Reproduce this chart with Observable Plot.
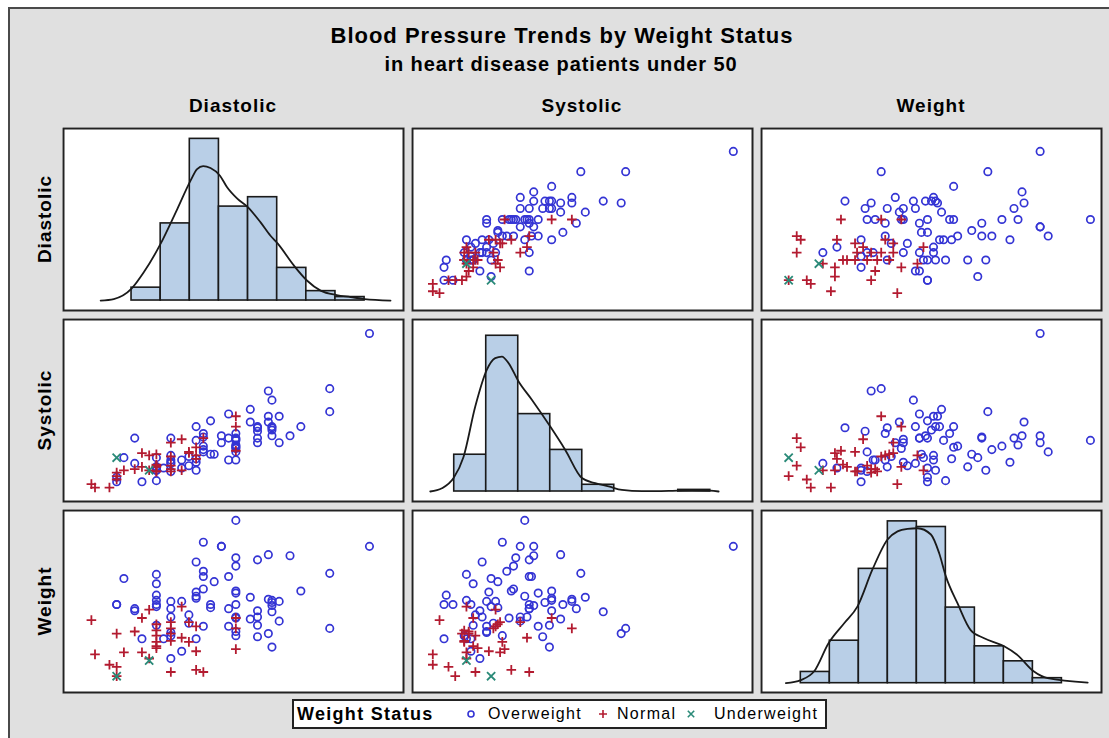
<!DOCTYPE html>
<html>
<head>
<meta charset="utf-8">
<script src="https://cdn.jsdelivr.net/npm/d3@7"></script>
<script src="https://cdn.jsdelivr.net/npm/@observablehq/plot@0.6"></script>
<style>
  html, body { margin: 0; padding: 0; background: #fff; overflow: hidden; width: 1109px; height: 738px; }
  #frame { position: absolute; left: 8px; top: 7px; width: 1200px; height: 800px; border: 2px solid #4a4a4a; background: #e0e0e0; }
  .t { position: absolute; font-family: "Liberation Sans", Arial, sans-serif; font-weight: bold; color: #000; white-space: nowrap; line-height: 1; }
  .panel { position: absolute; }
  #legend { position: absolute; left: 292px; top: 699px; width: 535px; height: 30px; box-sizing: border-box; border: 2px solid #222; background: #fff; font-family: "Liberation Sans", Arial, sans-serif; }
  #legend span { position: absolute; top: 4px; line-height: 1; white-space: nowrap; }
  #legend svg { position: absolute; top: 7px; }
</style>
</head>
<body>
<div id="frame"></div>
<div id="root"></div>
<script>
// ---------------- data ----------------
const weightStatus = [].concat(
  Array(74).fill("Overweight"), Array(34).fill("Normal"), Array(2).fill("Underweight"));
const diastolic = [
  137,126,126,118,115,112,112,110,110,110,110,110,109,109,109,106,106,106,106,106,
  104,104,100,100,100,100,100,100,100,100,100,100,98,98,98,96,96,94,93,93,
  91,91,91,91,91,89,89,89,89,87,85,85,82,82,82,82,82,82,80,78,
  78,78,78,78,78,78,74,72,72,69,67,67,89,87,
  100,100,100,91,89,89,89,87,87,85,85,82,82,82,82,82,78,78,78,78,
  78,78,76,76,74,74,72,69,67,67,67,65,61,60,
  76,67];
const systolic = [
  227,179,159,146,138,132,155,145,169,138,143,146,177,155,150,142,145,146,136,132,
  150,161,124,117,127,135,136,140,128,129,130,134,157,136,117,132,138,122,122,151,
  124,126,137,129,140,115,134,146,118,112,110,117,114,107,117,115,136,121,110,111,
  119,110,108,99,111,108,98,114,136,119,98,102,108,120,
  125,155,146,136,128,118,121,124,123,135,108,112,107,109,120,132,113,111,107,112,
  107,122,108,121,123,111,109,108,103,100,106,93,93,96,
  108,119];
const weight = [
  229,150,203,186,220,157,176,132,166,172,175,177,145,178,221,142,153,167,216,161,
  159,180,143,147,160,161,173,184,186,210,218,254,169,200,152,229,229,195,170,173,
  233,205,200,188,152,214,181,179,185,163,128,176,121,143,146,161,169,176,140,153,
  171,173,177,182,193,202,140,167,169,198,173,173,140,155,
  130,150,160,108,110,128,152,137,156,141,171,108,138,145,150,156,131,133,137,143,
  148,154,121,168,127,160,147,127,104,113,145,115,125,158,
  119,104];

const variables = ["Diastolic", "Systolic", "Weight"];
const statusOrder = ["Overweight", "Normal", "Underweight"];

// histogram bins (percent) read from the diagonal cells
const diaBinEdges = [55,65,75,85,95,105,115,125,135];
const diaPercent  = [2.6,15.6,32.7,19.0,20.9,6.6,1.9,0.7];
const sysBinEdges = [80,100,120,140,160,180,200,220,240];
const sysPercent  = [11.5,48.7,24.2,13.0,2.1,0,0,0.5];
const wtBinEdges  = [90,110,130,150,170,190,210,230,250,270];
const wtPercent   = [1.8,6.8,18.3,25.9,25.0,12.1,5.9,3.5,0.8];

// kernel density curves read from the diagonal cells
const diaKernelX = [44.4,48.9,55,59.2,65,70.7,75.3,77.5,79.6,82.1,85.3,87.8,91.3,94.9,99.3,102.7,105.2,110.7,115.3,119.9,125.4,130.2,135,143.9];
const diaKernelY = [0,0.3,2.4,5.7,11.5,18.5,24.3,26.6,27.2,26.8,25.3,22.9,20.6,18.9,15.8,13.1,11.5,7.1,4.0,2.0,1.1,0.7,0.3,0];
const sysKernelX = [65,72.3,79.6,85.8,93.1,100.4,105.6,109.8,114,120.2,128.5,140,149.4,159.8,168.1,176.5,184.8,197.3,214,228.5,240,245.2];
const sysKernelY = [0,1.0,4.2,10.8,26.5,38.1,41.7,42.2,40.1,34.4,28.7,20.3,13.0,4.2,2.6,1.6,0.5,0.1,0.2,0.4,0.3,0];
const wtKernelX  = [79.7,90,99.2,109.1,119.9,129.1,139.4,149.8,156.7,163.6,170.5,179.7,185.4,190,198,207.1,216.4,230.2,239.4,250.5,260.2,287.8];
const wtKernelY  = [0,0.5,1.9,6.4,9.6,12.3,18.2,23.0,24.3,24.7,24.8,23.8,20.8,17.1,12.8,8.5,7.2,5.9,4.5,1.9,0.8,0.1];

// ---------------- tables built from the arrays ----------------
const rows = diastolic.map((d, i) => ({Diastolic: d, Systolic: systolic[i], Weight: weight[i], status: weightStatus[i]}));
const mkBins = (edges, pct) => pct.map((p, i) => ({x1: edges[i], x2: edges[i + 1], y: p})).filter(b => b.y > 0);
const mkCurve = (xs, ys) => xs.map((x, i) => ({x, y: ys[i]}));
const diag = {
  Diastolic: {bins: mkBins(diaBinEdges, diaPercent), curve: mkCurve(diaKernelX, diaKernelY), x: [31.3, 148.7], y: [-2.22, 35.0]},
  Systolic:  {bins: mkBins(sysBinEdges, sysPercent), curve: mkCurve(sysKernelX, sysKernelY), x: [53.3, 267], y: [-3.44, 54.1]},
  Weight:    {bins: mkBins(wtBinEdges, wtPercent),   curve: mkCurve(wtKernelX, wtKernelY),   x: [62.2, 298], y: [-1.65, 27.8]}
};
// scale domains of each variable when used across (column) or down (row)
const xDom = {Diastolic: [52, 146.7], Systolic: [83.5, 236], Weight: [90, 260]};
const yDom = {Diastolic: [50, 150], Systolic: [80, 240], Weight: [87.3, 264.5]};

const colors = {Overweight: "#3434d4", Normal: "#b31b30", Underweight: "#2a8a78"};

// ---------------- layout ----------------
const colLeft = [62, 411, 760];
const rowTop = [127, 318, 509];
const PW = 342, PH = 184;
const root = document.getElementById("root");

function addText(txt, x, y, size, spacing, center = true) {
  const d = document.createElement("div");
  d.className = "t";
  d.textContent = txt;
  d.style.fontSize = size + "px";
  d.style.letterSpacing = spacing + "px";
  d.style.top = y + "px";
  d.style.left = x + "px";
  if (center) d.style.transform = "translateX(-50%)";
  root.appendChild(d);
  return d;
}
addText("Blood Pressure Trends by Weight Status", 562, 25, 22, 1.0);
addText("in heart disease patients under 50", 561, 54, 20, 0.9);
variables.forEach((v, j) => addText(v, colLeft[j] + PW / 2, 96, 19, 1.0));
variables.forEach((v, i) => {
  const d = addText(v, 44, rowTop[i] + PH / 2, 19, 1.0, false);
  d.style.transform = "translate(-50%, -50%) rotate(-90deg)";
});

function place(svg, left, top) {
  svg.classList.add("panel");
  svg.style.left = left + "px";
  svg.style.top = top + "px";
  root.appendChild(svg);
}

variables.forEach((rv, i) => {
  variables.forEach((cv, j) => {
    let svg;
    const frame = Plot.frame({stroke: "#222", strokeWidth: 2, inset: 1});
    if (rv === cv) {
      const g = diag[rv];
      svg = Plot.plot({
        width: PW, height: PH, margin: 0,
        style: {background: "#fff", overflow: "visible"},
        x: {domain: g.x, axis: null},
        y: {domain: g.y, axis: null},
        marks: [
          Plot.rectY(g.bins, {x1: "x1", x2: "x2", y1: 0, y2: "y", fill: "#b9cfe7", stroke: "#1a1a1a", strokeWidth: 1.6}),
          Plot.line(g.curve, {x: "x", y: "y", stroke: "#1a1a1a", strokeWidth: 1.8, curve: "monotone-x"}),
          frame
        ]
      });
    } else {
      svg = Plot.plot({
        width: PW, height: PH, margin: 0,
        style: {background: "#fff", overflow: "visible"},
        x: {domain: xDom[cv], axis: null},
        y: {domain: yDom[rv], axis: null},
        marks: [
          Plot.dot(rows, {filter: d => d.status === "Overweight", x: cv, y: rv, r: 3.7, symbol: "circle", fill: "none", stroke: colors.Overweight, strokeWidth: 1.7}),
          Plot.dot(rows, {filter: d => d.status === "Normal", x: cv, y: rv, r: 3.2, symbol: "plus", stroke: colors.Normal, strokeWidth: 1.8}),
          Plot.dot(rows, {filter: d => d.status === "Underweight", x: cv, y: rv, r: 3.8, symbol: "times", stroke: colors.Underweight, strokeWidth: 1.8}),
          frame
        ]
      });
    }
    place(svg, colLeft[j], rowTop[i]);
  });
});

// ---------------- legend ----------------
const lg = document.createElement("div");
lg.id = "legend";
root.appendChild(lg);
function lgText(txt, x, bold, size, spacing) {
  const s = document.createElement("span");
  s.textContent = txt;
  s.style.left = x + "px";
  s.style.fontSize = size + "px";
  s.style.letterSpacing = spacing + "px";
  s.style.fontWeight = bold ? "bold" : "normal";
  s.style.top = bold ? "4px" : "5px";
  lg.appendChild(s);
}
function lgSym(kind, cx) {
  const ns = "http://www.w3.org/2000/svg";
  const s = document.createElementNS(ns, "svg");
  s.setAttribute("width", 12); s.setAttribute("height", 12);
  s.style.left = (cx - 6) + "px";
  const p = document.createElementNS(ns, "path");
  if (kind === "Overweight") p.setAttribute("d", "M9,6A3,3 0 1,1 3,6A3,3 0 1,1 9,6Z");
  if (kind === "Normal") p.setAttribute("d", "M6,2V10M2,6H10");
  if (kind === "Underweight") p.setAttribute("d", "M2.8,2.8L9.2,9.2M9.2,2.8L2.8,9.2");
  p.setAttribute("fill", "none");
  p.setAttribute("stroke", colors[kind]);
  p.setAttribute("stroke-width", 1.6);
  s.appendChild(p);
  lg.appendChild(s);
}
lgText("Weight Status", 3, true, 18, 1.3);
lgSym("Overweight", 177);
lgText("Overweight", 194, false, 16, 1.3);
lgSym("Normal", 309);
lgText("Normal", 323, false, 16, 1.3);
lgSym("Underweight", 397);
lgText("Underweight", 420, false, 16, 1.3);
</script>
</body>
</html>
